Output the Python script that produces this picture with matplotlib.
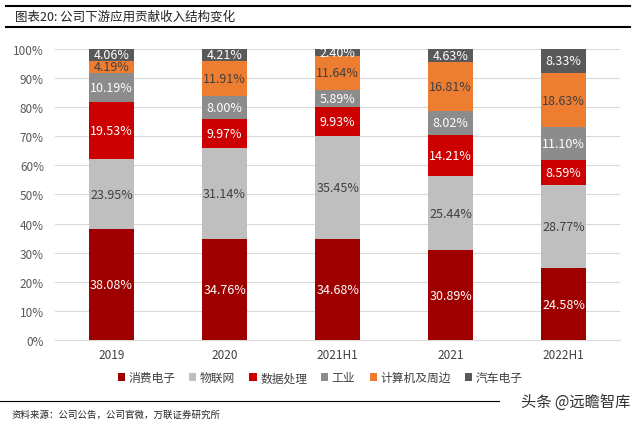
import matplotlib
matplotlib.use("Agg")
import matplotlib.pyplot as plt
from matplotlib.lines import Line2D
import numpy as np

plt.rcParams['font.family'] = ['Noto Sans CJK SC', 'DejaVu Sans']

categories = ["2019", "2020", "2021H1", "2021", "2022H1"]
series_names = ["消费电子", "物联网", "数据处理", "工业", "计算机及周边", "汽车电子"]
consumer = [38.08, 34.76, 34.68, 30.89, 24.58]
iot = [23.95, 31.14, 35.45, 25.44, 28.77]
data_proc = [19.53, 9.97, 9.93, 14.21, 8.59]
industry = [10.19, 8.00, 5.89, 8.02, 11.10]
computer = [4.19, 11.91, 11.64, 16.81, 18.63]
auto = [4.06, 4.21, 2.40, 4.63, 8.33]
yticks = [0, 10, 20, 30, 40, 50, 60, 70, 80, 90, 100]
ytick_labels = ["0%", "10%", "20%", "30%", "40%", "50%", "60%", "70%", "80%", "90%", "100%"]

series = [consumer, iot, data_proc, industry, computer, auto]
colors = ["#9E0000", "#BFBFBF", "#CC0000", "#8C8C8C", "#ED7D31", "#595959"]
text_colors = ["white", "#404040", "white", "white", "#404040", "white"]

fig = plt.figure(figsize=(6.4, 4.27), dpi=100)
ax = fig.add_axes([0.086, 0.2014, 0.883, 0.682])

x = np.arange(len(categories))
bottom = np.zeros(len(categories))
for vals, c, tc, name in zip(series, colors, text_colors, series_names):
    vals = np.array(vals)
    ax.bar(x, vals, 0.4, bottom=bottom, color=c, label=name, zorder=3)
    for xi, b, v in zip(x, bottom, vals):
        ax.text(xi, b + v / 2, f"{v:.2f}%", ha="center", va="center",
                color=tc, fontsize=9, zorder=4)
    bottom += vals

ax.set_xlim(-0.5, 4.5)
ax.set_ylim(0, 100)
ax.set_yticks(yticks)
ax.set_yticklabels(ytick_labels, fontsize=8.5, color="#595959")
ax.set_xticks(x)
ax.set_xticklabels(categories, fontsize=8.5, color="#404040")
ax.tick_params(axis="both", length=0)
ax.tick_params(axis="y", pad=8)
ax.tick_params(axis="x", pad=6)
ax.grid(axis="y", color="#D9D9D9", linewidth=0.8, zorder=0)
for s in ["top", "right", "left"]:
    ax.spines[s].set_visible(False)
ax.spines["bottom"].set_color("#D9D9D9")

leg = fig.legend(loc="center", bbox_to_anchor=(0.50, 0.113), ncol=6, frameon=False,
                 fontsize=8.5, handlelength=0.6, handleheight=0.6, handletextpad=0.3,
                 columnspacing=1.2)
for t in leg.get_texts():
    t.set_color("#404040")

# title and lines
fig.add_artist(Line2D([0.01, 0.985], [0.983, 0.983], color="black", linewidth=1.5))
fig.add_artist(Line2D([0.01, 0.985], [0.935, 0.935], color="black", linewidth=1.5))
fig.text(0.023, 0.959, "图表20: 公司下游应用贡献收入结构变化", fontsize=9, va="center", ha="left", color="#222222")

fig.add_artist(Line2D([0.0, 0.78], [0.059, 0.059], color="black", linewidth=0.8))
fig.text(0.018, 0.028, "资料来源：公司公告，公司官微，万联证券研究所", fontsize=6.8, va="center",
         ha="left", style="italic", color="#222222")
fig.text(0.985, 0.058, "头条 @远瞻智库", fontsize=11, va="center", ha="right", color="#333333")

fig.savefig("out.png", dpi=100, facecolor="white")
